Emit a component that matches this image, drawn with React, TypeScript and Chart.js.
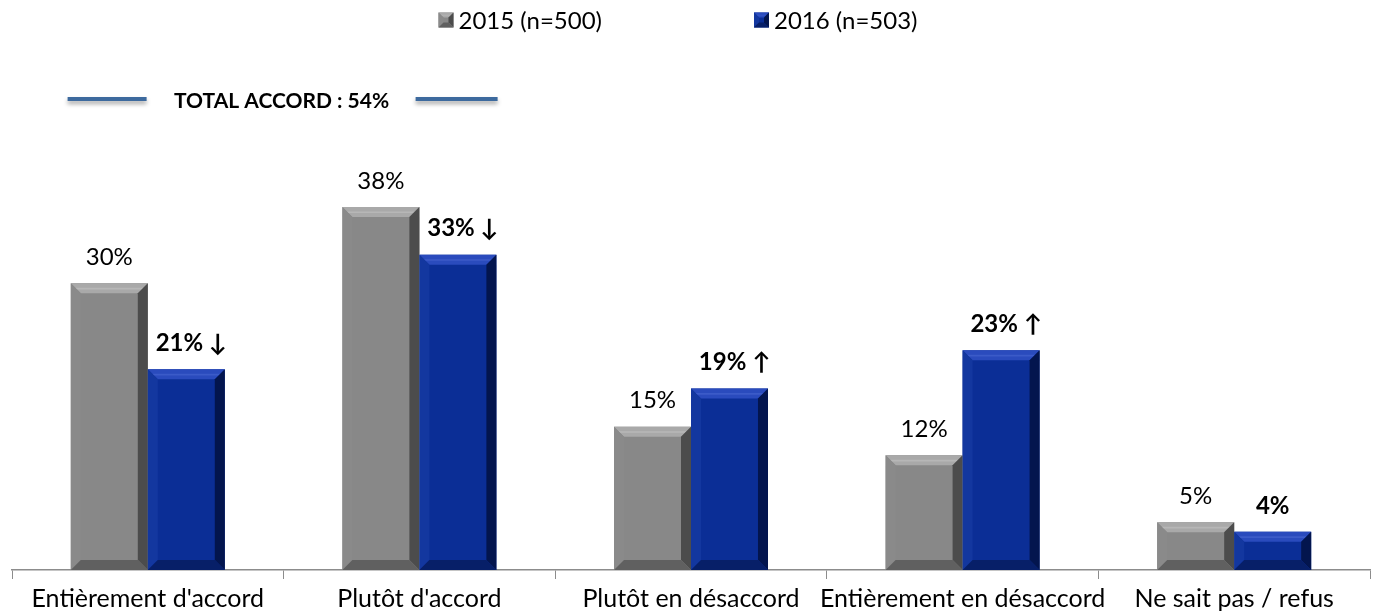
import React, { useEffect, useRef } from "react";
import { Chart, registerables } from "chart.js";

Chart.register(...registerables);

const categories = [
  "Entièrement d'accord",
  "Plutôt d'accord",
  "Plutôt en désaccord",
  "Entièrement en désaccord",
  "Ne sait pas / refus",
];
const values2015 = [30, 38, 15, 12, 5];
const values2016 = [21, 33, 19, 23, 4];
const trend2016 = ["down", "down", "up", "up", ""];
const seriesNames = ["2015 (n=500)", "2016 (n=503)"];
const totalAccordText = "TOTAL ACCORD : 54%";

const FONT = 'Lato, "Open Sans", "DejaVu Sans", sans-serif';

const palettes = [
  { face: "#888888", top: "#a9a9a9", hi: "#c2c2c2", left: "#8a8a8a", right: "#4c4c4c", bottom: "#606060" },
  { face: "#0b2e96", top: "#2a4bbd", hi: "#4766cf", left: "#13379f", right: "#03154e", bottom: "#071f68" },
];

function poly(ctx: CanvasRenderingContext2D, pts: number[][], color: string) {
  ctx.beginPath();
  ctx.moveTo(pts[0][0], pts[0][1]);
  for (let i = 1; i < pts.length; i++) ctx.lineTo(pts[i][0], pts[i][1]);
  ctx.closePath();
  ctx.fillStyle = color;
  ctx.fill();
}

function drawBevel(ctx: CanvasRenderingContext2D, l: number, t: number, w: number, h: number, pal: any, size: number) {
  const r = l + w;
  const bot = t + h;
  const b = Math.min(size, h / 2, w / 2);
  ctx.save();
  poly(ctx, [[l, t], [r, t], [r - b, t + b], [l + b, t + b]], pal.top);
  ctx.globalAlpha = 0.6;
  poly(ctx, [[l + b * 0.45, t + b * 0.45], [r - b * 0.45, t + b * 0.45], [r - b * 0.62, t + b * 0.62], [l + b * 0.62, t + b * 0.62]], pal.hi);
  ctx.globalAlpha = 1;
  poly(ctx, [[l, t], [l + b, t + b], [l + b, bot - b], [l, bot]], pal.left);
  poly(ctx, [[r, t], [r, bot], [r - b, bot - b], [r - b, t + b]], pal.right);
  poly(ctx, [[l, bot], [l + b, bot - b], [r - b, bot - b], [r, bot]], pal.bottom);
  ctx.restore();
}

const bevelPlugin = {
  id: "bevelPlugin",
  afterDatasetsDraw(chart: any) {
    const ctx = chart.ctx;
    chart.data.datasets.forEach((_ds: any, di: number) => {
      const meta = chart.getDatasetMeta(di);
      meta.data.forEach((el: any) => {
        const p = el.getProps(["x", "y", "base", "width"], true);
        drawBevel(ctx, p.x - p.width / 2, p.y, p.width, p.base - p.y, palettes[di], 10);
      });
    });
  },
};

function labelFor(di: number, i: number) {
  if (di === 0) return `${values2015[i]}%`;
  const t = trend2016[i];
  return `${values2016[i]}%` + (t === "down" ? " ↓" : t === "up" ? " ↑" : "");
}

const labelPlugin = {
  id: "labelPlugin",
  afterDatasetsDraw(chart: any) {
    const ctx = chart.ctx;
    ctx.save();
    ctx.textAlign = "center";
    ctx.textBaseline = "middle";
    ctx.fillStyle = "#000";
    chart.data.datasets.forEach((_ds: any, di: number) => {
      const meta = chart.getDatasetMeta(di);
      ctx.font = (di === 1 ? "bold " : "") + "24px " + FONT;
      meta.data.forEach((el: any, i: number) => {
        const p = el.getProps(["x", "y"], true);
        const txt = labelFor(di, i);
        const extra = di === 1 && trend2016[i] ? 5 : 0;
        ctx.fillText(txt, p.x + extra, p.y - 26);
      });
    });
    ctx.restore();
  },
};

const legendPlugin = {
  id: "customLegend",
  afterDraw(chart: any) {
    const ctx = chart.ctx;
    ctx.save();
    ctx.font = "24px " + FONT;
    ctx.textBaseline = "middle";
    ctx.fillStyle = "#000";
    const box = 15;
    const gap = 5;
    const spacing = 152;
    const widths = seriesNames.map((s) => box + gap + ctx.measureText(s).width);
    const total = widths[0] + spacing + widths[1];
    let x = 678 - total / 2;
    const cy = 20;
    seriesNames.forEach((s, i) => {
      const pal = palettes[i];
      ctx.fillStyle = pal.face;
      ctx.fillRect(x, cy - box / 2, box, box);
      drawBevel(ctx, x, cy - box / 2, box, box, pal, 5);
      ctx.fillStyle = "#000";
      ctx.fillText(s, x + box + gap, cy + 1);
      x += widths[i] + spacing;
    });
    ctx.restore();
  },
};

const totalPlugin = {
  id: "totalAccord",
  afterDraw(chart: any) {
    const ctx = chart.ctx;
    const xs = chart.scales.x;
    const c0 = xs.getPixelForValue(0);
    const c1 = xs.getPixelForValue(1);
    const mid = (c0 + c1) / 2;
    const y = 99;
    ctx.save();
    ctx.shadowColor = "rgba(0,0,0,0.35)";
    ctx.shadowBlur = 4;
    ctx.shadowOffsetY = 3;
    ctx.strokeStyle = "#3d6a9e";
    ctx.lineWidth = 4;
    ctx.beginPath();
    ctx.moveTo(mid - 216, y);
    ctx.lineTo(mid - 137, y);
    ctx.moveTo(mid + 132, y);
    ctx.lineTo(mid + 214, y);
    ctx.stroke();
    ctx.restore();
    ctx.save();
    ctx.font = "bold 21px " + FONT;
    ctx.textAlign = "center";
    ctx.textBaseline = "middle";
    ctx.fillStyle = "#000";
    ctx.fillText(totalAccordText, mid - 2, y + 2);
    ctx.restore();
  },
};

export default function App() {
  const ref = useRef<HTMLCanvasElement | null>(null);
  useEffect(() => {
    document.body.style.margin = "0";
    const canvas = ref.current;
    if (!canvas) return;
    const chart = new Chart(canvas, {
      type: "bar",
      data: {
        labels: categories,
        datasets: [
          {
            label: seriesNames[0],
            data: values2015,
            backgroundColor: palettes[0].face,
            categoryPercentage: 0.567,
            barPercentage: 1,
          },
          {
            label: seriesNames[1],
            data: values2016,
            backgroundColor: palettes[1].face,
            categoryPercentage: 0.567,
            barPercentage: 1,
          },
        ],
      },
      options: {
        animation: false,
        responsive: false,
        maintainAspectRatio: false,
        layout: { padding: { top: 140, left: 12, right: 5, bottom: 0 } },
        plugins: {
          legend: { display: false },
          tooltip: { enabled: false },
        },
        scales: {
          x: {
            grid: {
              display: true,
              offset: true,
              drawOnChartArea: false,
              drawTicks: true,
              tickLength: 9,
              color: "#8c8c8c",
            },
            border: { display: true, color: "#8c8c8c", width: 1.5 },
            ticks: {
              color: "#000",
              font: { family: FONT, size: 25 },
              padding: 5,
              maxRotation: 0,
              autoSkip: false,
            },
            afterFit(scale: any) {
              scale.height = 45;
            },
          },
          y: {
            display: false,
            min: 0,
            max: 45,
          },
        },
      },
      plugins: [bevelPlugin, labelPlugin, legendPlugin, totalPlugin],
    } as any);
    return () => chart.destroy();
  }, []);
  return (
    <div style={{ width: 1375, height: 615 }}>
      <canvas ref={ref} width={1375} height={615} style={{ display: "block" }} />
    </div>
  );
}
